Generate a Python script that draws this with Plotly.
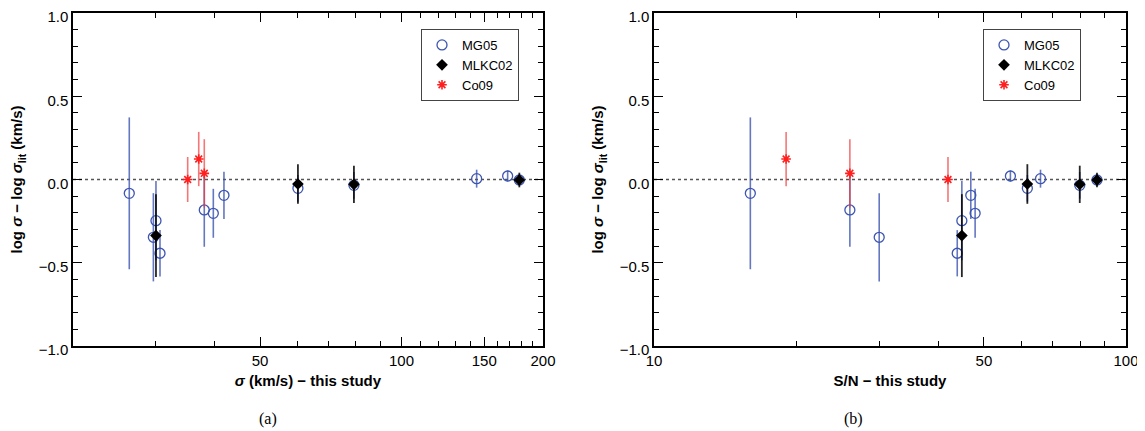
import math
import plotly.graph_objects as go

# ---------------- data ----------------
# MG05 (open blue circles)
mg_sigma = [26.35, 38.05, 29.65, 30.63, 30.03, 41.9, 39.77, 168.2, 60.2, 144.5, 79.2, 178.1]
mg_sn    = [16.0, 26.0, 30.0, 43.9, 44.9, 46.9, 47.9, 56.9, 61.8, 65.9, 79.8, 86.8]
mg_dlog  = [-0.083, -0.183, -0.347, -0.443, -0.247, -0.095, -0.203, 0.021, -0.053, 0.005, -0.035, -0.003]
mg_err   = [0.456, 0.221, 0.265, 0.139, 0.238, 0.142, 0.147, 0.033, 0.08, 0.054, 0.08, 0.03]

# MLKC02 (black diamonds)
ml_sigma = [30.03, 60.2, 79.2, 178.1]
ml_sn    = [44.9, 61.8, 79.8, 86.8]
ml_dlog  = [-0.337, -0.027, -0.029, -0.003]
ml_err   = [0.249, 0.119, 0.112, 0.044]

# Co09 (red asterisks)
co_sigma = [35.08, 37.03, 38.05]
co_sn    = [41.96, 19.05, 26.0]
co_dlog  = [0.0, 0.123, 0.037]
co_err   = [0.135, 0.163, 0.205]

# axis ticks
yticks = [-1.0, -0.5, 0.0, 0.5, 1.0]
yticklabels = ["\u22121.0", "\u22120.5", "0.0", "0.5", "1.0"]
x1ticks = [50, 100, 150, 200]
x1minor = [30, 40, 60, 70, 80, 90, 110, 120, 130, 140, 160, 170, 180, 190]
x2ticks = [10, 50, 100]
x2minor = [20, 30, 40, 60, 70, 80, 90]

BLUE = "#3d55b0"
BLUE_BAR = "rgba(61,85,176,0.8)"
RED = "#ff1f1f"
RED_BAR = "rgba(240,60,60,0.7)"
BLACK_BAR = "rgba(0,0,0,0.85)"

FONT = "Liberation Sans, Arial, sans-serif"

fig = go.Figure()


def add_panel(xs_mg, xs_ml, xs_co, xa, ya, leg):
    fig.add_trace(go.Scatter(
        x=xs_mg, y=mg_dlog, mode="markers", name="MG05",
        xaxis=xa, yaxis=ya, legend=leg,
        marker=dict(symbol="circle-open", size=10, color=BLUE, line=dict(width=1.3, color=BLUE)),
        error_y=dict(type="data", array=mg_err, visible=True, color=BLUE_BAR, thickness=1.6, width=0),
    ))
    fig.add_trace(go.Scatter(
        x=xs_ml, y=ml_dlog, mode="markers", name="MLKC02",
        xaxis=xa, yaxis=ya, legend=leg,
        marker=dict(symbol="diamond", size=9, color="black"),
        error_y=dict(type="data", array=ml_err, visible=True, color=BLACK_BAR, thickness=1.8, width=0),
    ))
    fig.add_trace(go.Scatter(
        x=xs_co, y=co_dlog, mode="markers", name="Co09",
        xaxis=xa, yaxis=ya, legend=leg,
        marker=dict(symbol="asterisk-open", size=8, color=RED, line=dict(width=1.6, color=RED)),
        error_y=dict(type="data", array=co_err, visible=True, color=RED_BAR, thickness=1.6, width=0),
    ))


add_panel(mg_sigma, ml_sigma, co_sigma, "x", "y", "legend")
add_panel(mg_sn, ml_sn, co_sn, "x2", "y2", "legend2")

# page body has an 8px margin: figure pixel = screen pixel - 8
OFF = 8
W, H = 1145 - OFF, 431 - OFF
dom1 = [(73 - OFF) / W, (543 - OFF) / W]
dom2 = [(654 - OFF) / W, (1126 - OFF) / W]
ydom = [(H - (346 - OFF)) / H, (H - (13 - OFF)) / H]

common_axis = dict(
    showline=True, linecolor="black", linewidth=1.5, mirror="ticks",
    ticks="inside", ticklen=9, tickwidth=1.3, tickcolor="black",
    showgrid=False, zeroline=False, automargin=False,
    ticklabeloverflow="allow",
    tickfont=dict(family=FONT, size=15, color="black"),
)

ytitle = "<b>log <i>\u03c3</i> \u2212 log <i>\u03c3</i><sub>lit</sub> (km/s)</b>"
TFONT = dict(family=FONT, size=15, color="black")

fig.update_layout(
    width=W, height=H,
    margin=dict(l=0, r=0, t=0, b=0, autoexpand=False),
    paper_bgcolor="white", plot_bgcolor="white",
    font=dict(family=FONT, size=14, color="black"),
    xaxis=dict(
        common_axis, type="log", domain=dom1, anchor="y",
        range=[math.log10(20), math.log10(200)],
        tickmode="array", tickvals=x1ticks, ticktext=[str(v) for v in x1ticks],
        minor=dict(tickvals=x1minor, ticks="inside", ticklen=5, tickcolor="black", tickwidth=1.2),
        title=dict(text="<b><i>\u03c3</i> (km/s) \u2212 this study</b>", font=TFONT, standoff=8),
    ),
    yaxis=dict(
        common_axis, domain=ydom, anchor="x", range=[-1, 1],
        tickmode="array", tickvals=yticks, ticktext=yticklabels, ticklabelshift=4,
        minor=dict(dtick=0.1, ticks="inside", ticklen=5, tickcolor="black", tickwidth=1.2),
        title=dict(text=ytitle, font=TFONT, standoff=12),
    ),
    xaxis2=dict(
        common_axis, type="log", domain=dom2, anchor="y2",
        range=[1, 2],
        tickmode="array", tickvals=x2ticks, ticktext=[str(v) for v in x2ticks],
        minor=dict(tickvals=x2minor, ticks="inside", ticklen=5, tickcolor="black", tickwidth=1.2),
        title=dict(text="<b>S/N \u2212 this study</b>", font=TFONT, standoff=8),
    ),
    yaxis2=dict(
        common_axis, domain=ydom, anchor="x2", range=[-1, 1],
        tickmode="array", tickvals=yticks, ticktext=yticklabels, ticklabelshift=4,
        minor=dict(dtick=0.1, ticks="inside", ticklen=5, tickcolor="black", tickwidth=1.2),
        title=dict(text=ytitle, font=TFONT, standoff=12),
    ),
    legend=dict(
        x=(421 - OFF) / W, y=(H - (29 - OFF)) / H, xanchor="left", yanchor="top",
        bordercolor="#444", borderwidth=1, bgcolor="white",
        font=dict(family=FONT, size=13), itemwidth=30, tracegroupgap=0,
    ),
    legend2=dict(
        x=(983 - OFF) / W, y=(H - (29 - OFF)) / H, xanchor="left", yanchor="top",
        bordercolor="#444", borderwidth=1, bgcolor="white",
        font=dict(family=FONT, size=13), itemwidth=30, tracegroupgap=0,
    ),
    showlegend=True,
)

# dotted zero reference lines
for xr, yr in (("x domain", "y"), ("x2 domain", "y2")):
    fig.add_shape(type="line", xref=xr, yref=yr, x0=0, x1=1, y0=0, y1=0,
                  line=dict(color="#555", width=1.5, dash="dot"), layer="below")

# panel captions
for xs, txt in ((268, "(a)"), (853, "(b)")):
    fig.add_annotation(x=(xs - OFF) / W, y=(H - (419 - OFF)) / H, xref="paper", yref="paper",
                       xanchor="center", yanchor="middle",
                       text=txt, showarrow=False,
                       font=dict(family="Liberation Serif, Times New Roman, serif", size=16, color="black"))

fig.write_html("out.html")
